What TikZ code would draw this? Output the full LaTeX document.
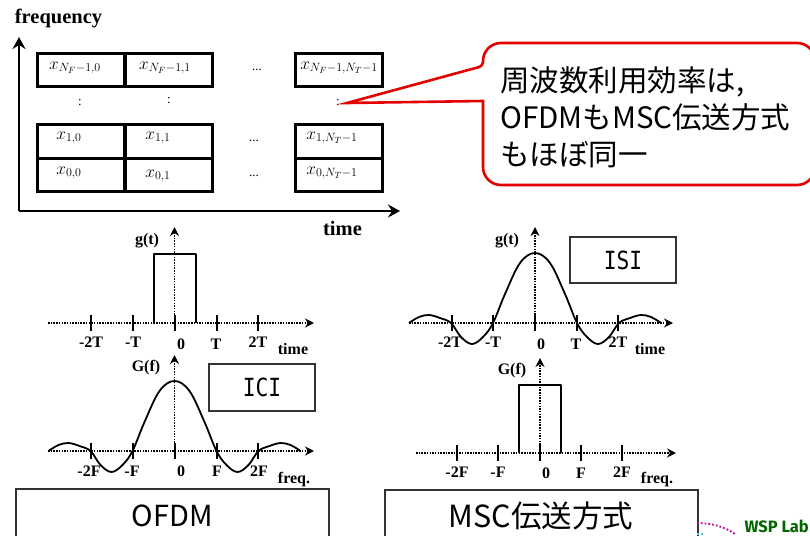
\documentclass[tikz,border=0pt]{standalone}
\usepackage[no-math]{fontspec}
\setmainfont{Liberation Serif}
\newfontfamily\cjk{Noto Sans CJK JP}
\newfontfamily\boxmono[FakeStretch=0.85]{DejaVu Sans Mono}
\newfontfamily\logofont{Fira Sans}
\usetikzlibrary{arrows.meta}

\tikzset{
    cell/.style={draw, line width=3.3pt, inner sep=0pt},
    celltext/.style={font=\fontsize{18}{20}\selectfont, inner sep=0pt},
    dotstext/.style={font=\fontsize{13}{15}\selectfont, inner sep=0pt},
    biglabel/.style={font=\bfseries\fontsize{20.5}{22}\selectfont, inner sep=0pt},
    ticklabel/.style={font=\bfseries\fontsize{16}{18}\selectfont, inner sep=0pt},
    axisline/.style={line width=1.6pt, dash pattern=on 1.5pt off 1.2pt, ->, >={Stealth[length=9pt,width=9pt,inset=3pt]}},
    mainaxis/.style={line width=2.2pt, ->, >={Stealth[length=12pt,width=13pt,inset=4pt]}},
    tickmark/.style={line width=1.5pt},
    curveline/.style={line width=1.8pt, line join=round},
    namebox/.style={draw=black!80, line width=1.2pt},
}

% One main lobe and the side lobes, drawn at the current origin
\newcommand{\lobes}[2]{%
    \draw[curveline, shift={(#1,#2)}] plot[smooth, tension=0.6] coordinates {
        (-126,0) (-116,-6) (-106,-8) (-95,-5) (-84,0) (-74,14) (-63,21) (-52,14) (-42,0)
        (-30,-29) (-15,-60) (0,-70) (15,-60) (30,-29)
        (42,0) (52,14) (63,21) (74,14) (84,0) (95,-5) (106,-8) (116,-6) (126,0)};
}

\begin{document}
\begin{tikzpicture}[x=1pt, y=-1pt]
    \clip (0,0) rectangle (810,535);

    % Time-frequency axes
    \coordinate (O) at (19,211);
    \coordinate (Ftop) at (19,37);
    \coordinate (Tend) at (400,211);
    \draw[mainaxis] (O) -- (Ftop);
    \draw[mainaxis] (O) -- (Tend);
    \node[biglabel] (freqlabel) at (58.5,18) {frequency};
    \node[biglabel] (timelabel) at (342.5,228) {time};

    % Symbol grid
    \foreach \name/\x/\y/\w/\h in {a/81.25/70/87.5/33, b/168.75/70/87.5/33, c/339/70/87/33,
        d/81.25/141.5/87.5/34, e/168.75/141.5/87.5/34, f/339/141.5/87/34,
        g/81.25/175/87.5/33, h/168.75/175/87.5/33, i/339/175/87/33}
        \node[cell, minimum width=\w pt, minimum height=\h pt] (cell\name) at (\x,\y) {};

    \node[celltext] (xa) at (75,68) {$x_{N_F-1,0}$};
    \node[celltext] (xb) at (165,68) {$x_{N_F-1,1}$};
    \node[celltext] (xc) at (339,68) {$x_{N_F-1,N_T-1}$};
    \node[celltext] (xd) at (69,138) {$x_{1,0}$};
    \node[celltext] (xe) at (158,138) {$x_{1,1}$};
    \node[celltext] (xf) at (332,138) {$x_{1,N_T-1}$};
    \node[celltext] (xg) at (69,173) {$x_{0,0}$};
    \node[celltext] (xh) at (158,176) {$x_{0,1}$};
    \node[celltext] (xi) at (332,173) {$x_{0,N_T-1}$};

    \node[dotstext] (dotsa) at (257,70) {...};
    \node[dotstext] (dotsb) at (254,141) {...};
    \node[dotstext] (dotsc) at (254,176) {...};
    \node[dotstext] (vdotsa) at (80,103) {:};
    \node[dotstext] (vdotsb) at (169,101) {:};
    \node[dotstext] (vdotsc) at (338,103) {:};

    % Callout
    \coordinate (tip) at (347,103);
    \draw[red!90!black, line width=2.6pt, fill=white, rounded corners=18pt]
        (tip) [sharp corners] -- (483,101) [rounded corners=18pt] -- (483,185) -- (815,185)
        -- (815,43) -- (483,43) [rounded corners=4pt] -- (483,66) [sharp corners] -- cycle;
    \node[anchor=west, inner sep=0pt, align=left, font=\cjk\fontsize{29.5}{37}\selectfont] (note) at (500,117.5)
        {周波数利用効率は,\\OFDMもMSC伝送方式\\もほぼ同一};

    % OFDM, g(t)
    \coordinate (gtA) at (48,323);
    \coordinate (gtB) at (314,323);
    \coordinate (gtC) at (174.5,331);
    \coordinate (gtD) at (174.5,227);
    \draw[axisline] (gtA) -- (gtB);
    \draw[axisline] (gtC) -- (gtD);
    \foreach \x in {91,133,175,217,258}
        \draw[tickmark] (\x,315) -- (\x,331);
    \draw[curveline] (154,323) -- (154,254) -- (196,254) -- (196,323);
    \foreach \x/\y/\t in {91/342/-2T, 133/342/-T, 181/344/0, 216/344/T, 258/342/2T, 293/349/time, 147/241/g(t)}
        \node[ticklabel] (gt\t) at (\x,\y) {\t};

    % OFDM, G(f)
    \coordinate (gfA) at (48,451);
    \coordinate (gfB) at (314,451);
    \coordinate (gfC) at (174.5,459);
    \coordinate (gfD) at (174.5,355);
    \draw[axisline] (gfA) -- (gfB);
    \draw[axisline] (gfC) -- (gfD);
    \foreach \x in {91,133,175,217,258}
        \draw[tickmark] (\x,443) -- (\x,459);
    \lobes{174.5}{451}
    \foreach \x/\y/\t in {89/471/-2F, 132/471/-F, 181/471/0, 217/471/F, 259/471/2F, 294/480/freq., 146/368/G(f)}
        \node[ticklabel] (gf\t) at (\x,\y) {\t};

    \node[namebox, minimum width=106pt, minimum height=47pt, font=\boxmono\fontsize{25}{27}\selectfont] (ici) at (262,387.5) {ICI};
    \draw[namebox] (16,489) rectangle (329,545);
    \node[inner sep=0pt, font=\cjk\fontsize{29}{31}\selectfont] (ofdm) at (172.5,516) {OFDM};

    % MSC, g(t)
    \coordinate (mtA) at (409,323);
    \coordinate (mtB) at (673,323);
    \coordinate (mtC) at (535,331);
    \coordinate (mtD) at (535,227);
    \draw[axisline] (mtA) -- (mtB);
    \draw[axisline] (mtC) -- (mtD);
    \foreach \x in {452,493,535,577,618}
        \draw[tickmark] (\x,315) -- (\x,331);
    \lobes{535}{323}
    \foreach \x/\y/\t in {450/342/-2T, 493/342/-T, 541/344/0, 576/344/T, 618/342/2T, 650/349/time, 507/241/g(t)}
        \node[ticklabel] (mt\t) at (\x,\y) {\t};

    \node[namebox, minimum width=106pt, minimum height=46pt, font=\boxmono\fontsize{25}{27}\selectfont] (isi) at (623,260) {ISI};

    % MSC, G(f)
    \coordinate (mfA) at (416,453);
    \coordinate (mfB) at (676,453);
    \coordinate (mfC) at (540,461);
    \coordinate (mfD) at (540,358);
    \draw[axisline] (mfA) -- (mfB);
    \draw[axisline] (mfC) -- (mfD);
    \foreach \x in {457,498,540,581,622}
        \draw[tickmark] (\x,445) -- (\x,461);
    \draw[curveline] (519,453) -- (519,385) -- (561,385) -- (561,453);
    \foreach \x/\y/\t in {457/472/-2F, 498/472/-F, 546/473/0, 581/473/F, 622/472/2F, 657/480/freq., 512/371/G(f)}
        \node[ticklabel] (mf\t) at (\x,\y) {\t};

    \draw[namebox] (385,490) rectangle (698,545);
    \node[inner sep=0pt, font=\cjk\fontsize{30.5}{32}\selectfont] (msc) at (541,516) {MSC伝送方式};

    % Lab logo
    \draw[magenta!80!blue, line width=1.8pt, dotted] (697,523) .. controls (712,523) and (725,527) .. (735,534);
    \draw[cyan!70, line width=1.8pt, dotted] (697,534) -- (703,534);
    \node[inner sep=0pt, anchor=east, text=green!40!black, font=\logofont\bfseries\fontsize{16.5}{20}\selectfont] (logo) at (809,526) {WSP Lab};
\end{tikzpicture}
\end{document}
